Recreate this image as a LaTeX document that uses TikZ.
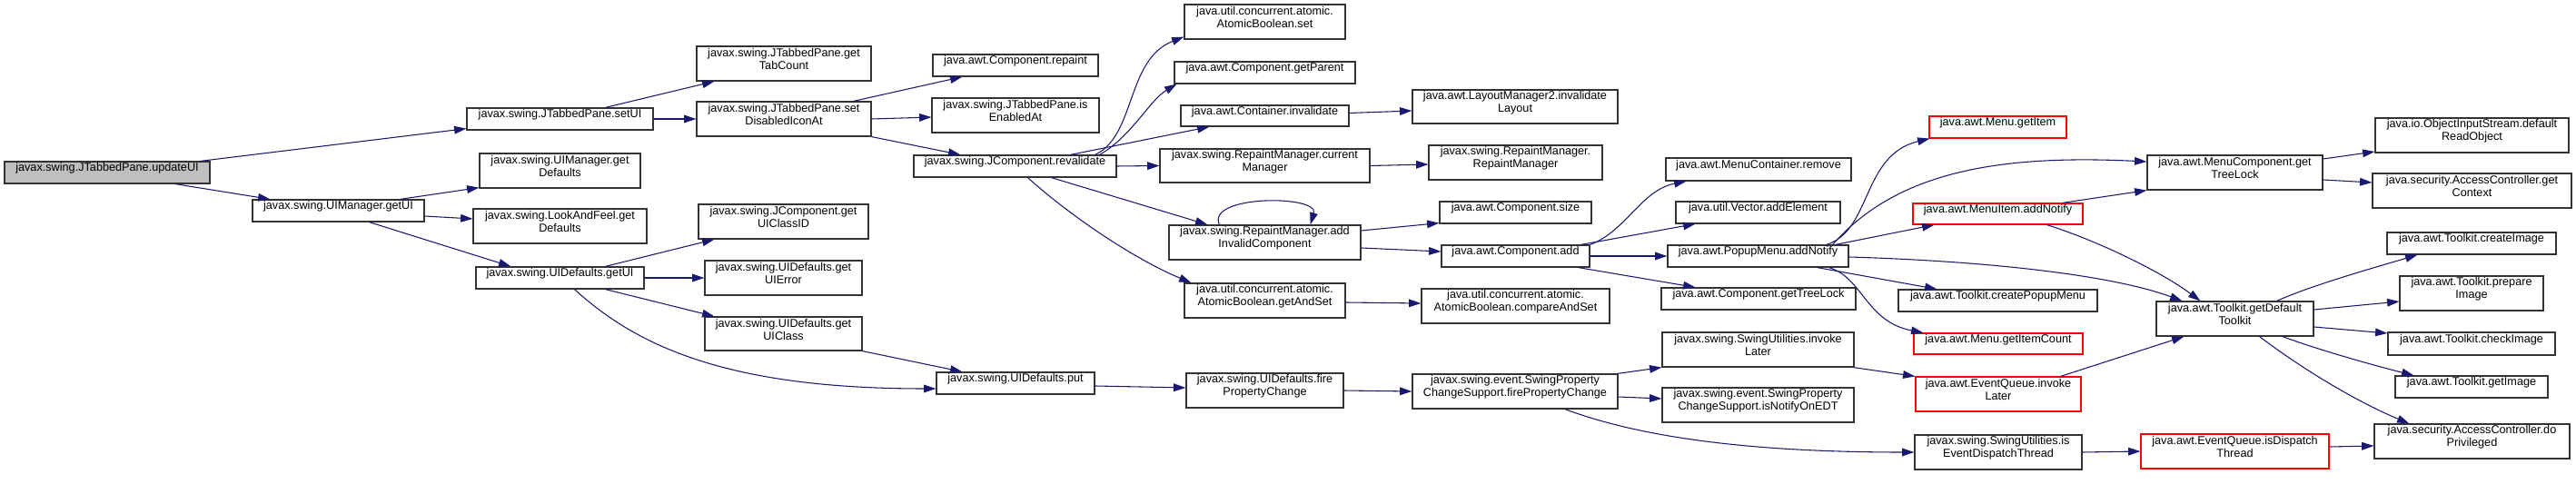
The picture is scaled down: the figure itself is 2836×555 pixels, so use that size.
\documentclass[tikz,border=0pt]{standalone}
\usepackage{fontspec}
\setmainfont{Liberation Sans}
\usetikzlibrary{arrows.meta,fit,calc}
\definecolor{boxline}{HTML}{333333}
\definecolor{rootfill}{HTML}{BFBFBF}
\definecolor{edgecol}{HTML}{191970}
\newcommand\bx[7]{\node[#1, fit={(#3,#4) (#5,#6)}] (#2) {#7};}
\begin{document}
\begin{tikzpicture}[x=0.75pt,y=-0.75pt,
  box/.style={draw=boxline, line width=0.9pt, fill=white, inner sep=0pt, align=center, font=\fontsize{9.5}{10.5}\selectfont},
  lbox/.style={box, align=left},
  rbox/.style={box, draw=red},
  gbox/.style={box, fill=rootfill},
  conn/.style={draw=edgecol, line width=0.8pt, -{Triangle[length=10pt,width=6.5pt]}},
]
\useasboundingbox (0,0) rectangle (2836,555);
% column 0,1
\bx{gbox}{updateUI}{5}{178}{231}{202}{javax.swing.JTabbedPane.updateUI}
\bx{box}{getUI}{278}{220}{467}{244}{javax.swing.UIManager.getUI}
% column 2
\bx{box}{setUI}{514}{119}{719}{143}{javax.swing.JTabbedPane.setUI}
\bx{box}{uimgrdef}{528}{169}{705}{207}{javax.swing.UIManager.get\\Defaults}
\bx{box}{lafdef}{521}{230}{712}{268}{javax.swing.LookAndFeel.get\\Defaults}
\bx{box}{udgetui}{524}{294}{709}{318}{javax.swing.UIDefaults.getUI}
% column 3
\bx{box}{tabcount}{767}{51}{959}{89}{javax.swing.JTabbedPane.get\\TabCount}
\bx{box}{disicon}{767}{112}{959}{150}{javax.swing.JTabbedPane.set\\DisabledIconAt}
\bx{box}{classid}{769}{225}{956}{263}{javax.swing.JComponent.get\\UIClassID}
\bx{box}{uierror}{776}{287}{949}{325}{javax.swing.UIDefaults.get\\UIError}
\bx{box}{uiclass}{776}{349}{949}{386}{javax.swing.UIDefaults.get\\UIClass}
% column 4
\bx{box}{repaint}{1027}{60}{1209}{84}{java.awt.Component.repaint}
\bx{box}{isenabled}{1026}{108}{1210}{146}{javax.swing.JTabbedPane.is\\EnabledAt}
\bx{box}{revalidate}{1006}{171}{1229}{195}{javax.swing.JComponent.revalidate}
\bx{box}{put}{1031}{410}{1205}{434}{javax.swing.UIDefaults.put}
% column 5
\bx{box}{abset}{1304}{5}{1481}{43}{java.util.concurrent.atomic.\\AtomicBoolean.set}
\bx{box}{getparent}{1293}{68}{1492}{92}{java.awt.Component.getParent}
\bx{box}{cinvalidate}{1300}{116}{1485}{139}{java.awt.Container.invalidate}
\bx{box}{curmgr}{1277}{164}{1508}{201}{javax.swing.RepaintManager.current\\Manager}
\bx{box}{addinv}{1287}{248}{1498}{286}{javax.swing.RepaintManager.add\\InvalidComponent}
\bx{box}{getandset}{1304}{312}{1481}{350}{java.util.concurrent.atomic.\\AtomicBoolean.getAndSet}
\bx{box}{udfire}{1306}{411}{1479}{449}{javax.swing.UIDefaults.fire\\PropertyChange}
% column 6
\bx{box}{layout}{1555}{99}{1781}{136}{java.awt.LayoutManager2.invalidate\\Layout}
\bx{box}{rmrm}{1573}{160}{1764}{198}{javax.swing.RepaintManager.\\RepaintManager}
\bx{box}{csize}{1585}{222}{1752}{246}{java.awt.Component.size}
\bx{box}{cadd}{1587}{270}{1750}{294}{java.awt.Component.add}
\bx{lbox}{cas}{1565}{318}{1772}{356}{java.util.concurrent.atomic.\\AtomicBoolean.compareAndSet}
\bx{lbox}{spcsfire}{1555}{412}{1781}{450}{javax.swing.event.SwingProperty\\ChangeSupport.firePropertyChange}
% column 7
\bx{box}{mcremove}{1834}{174}{2038}{199}{java.awt.MenuContainer.remove}
\bx{box}{vecadd}{1845}{222}{2026}{246}{java.util.Vector.addElement}
\bx{box}{popup}{1836}{270}{2035}{294}{java.awt.PopupMenu.addNotify}
\bx{box}{cgettree}{1829}{317}{2043}{341}{java.awt.Component.getTreeLock}
\bx{box}{suinvoke}{1830}{366}{2041}{404}{javax.swing.SwingUtilities.invoke\\Later}
\bx{box}{notifyedt}{1830}{427}{2041}{465}{javax.swing.event.SwingProperty\\ChangeSupport.isNotifyOnEDT}
% column 8
\bx{rbox}{getitem}{2124}{128}{2275}{152}{java.awt.Menu.getItem}
\bx{rbox}{miadd}{2106}{224}{2293}{247}{java.awt.MenuItem.addNotify}
\bx{box}{createpopup}{2090}{319}{2309}{343}{java.awt.Toolkit.createPopupMenu}
\bx{rbox}{getitemcount}{2107}{367}{2293}{390}{java.awt.Menu.getItemCount}
\bx{rbox}{eqinvoke}{2109}{415}{2291}{453}{java.awt.EventQueue.invoke\\Later}
\bx{box}{isedt}{2108}{479}{2292}{517}{javax.swing.SwingUtilities.is\\EventDispatchThread}
% column 9
\bx{box}{mcgettree}{2364}{171}{2557}{209}{java.awt.MenuComponent.get\\TreeLock}
\bx{box}{deftk}{2374}{332}{2547}{370}{java.awt.Toolkit.getDefault\\Toolkit}
\bx{rbox}{isdispatch}{2357}{478}{2564}{516}{java.awt.EventQueue.isDispatch\\Thread}
% column 10
\bx{box}{readobj}{2615}{130}{2828}{168}{java.io.ObjectInputStream.default\\ReadObject}
\bx{box}{getcontext}{2612}{191}{2831}{229}{java.security.AccessController.get\\Context}
\bx{box}{createimg}{2628}{256}{2814}{280}{java.awt.Toolkit.createImage}
\bx{box}{prepimg}{2642}{304}{2800}{342}{java.awt.Toolkit.prepare\\Image}
\bx{box}{checkimg}{2629}{366}{2813}{391}{java.awt.Toolkit.checkImage}
\bx{box}{getimg}{2637}{414}{2805}{438}{java.awt.Toolkit.getImage}
\bx{box}{doprivileged}{2614}{467}{2829}{505}{java.security.AccessController.do\\Privileged}

% edges
\draw[conn] ($(updateUI.north east)+(-11,0)$) -- ($(setUI.south west)+(0,-2)$);
\draw[conn] ($(updateUI.south)+(75,0)$) -- ($(getUI.north west)+(20,0)$);
\draw[conn] ($(setUI.north)+(50,0)$) -- ($(tabcount.south west)+(20,0)$);
\draw[conn] (setUI.east) -- (disicon.west);
\draw[conn] ($(disicon.north east)+(-20,0)$) -- ($(repaint.south west)+(33,0)$);
\draw[conn] (disicon.east) -- ($(isenabled.west)+(0,2)$);
\draw[conn] (disicon.south east) -- ($(revalidate.north west)+(52,0)$);
\draw[conn] ($(getUI.north east)+(-27,0)$) -- ($(uimgrdef.south west)+(0,-1)$);
\draw[conn] ($(getUI.east)+(0,6)$) -- ($(lafdef.west)+(0,-8)$);
\draw[conn] ($(getUI.south)+(34,0)$) -- ($(udgetui.north west)+(39,0)$);
\draw[conn] ($(udgetui.north)+(50,0)$) -- ($(classid.south west)+(18,0)$);
\draw[conn] (udgetui.east) -- (uierror.west);
\draw[conn] ($(udgetui.south)+(50,0)$) -- ($(uiclass.north west)+(11,0)$);
\draw[conn] ($(udgetui.south)+(16,0)$) .. controls +(68,62) and +(-231,0) .. ($(put.west)+(0,6)$);
\draw[conn] (uiclass.south east) -- ($(put.north west)+(29,0)$);
\draw[conn] ($(revalidate.north east)+(-24,0)$) .. controls +(45,-21) and +(-64,25) .. ($(abset.south west)+(0,-3)$);
\draw[conn] ($(revalidate.north east)+(-19,0)$) .. controls +(35,-20) and +(-30,18) .. ($(getparent.south west)+(3,0)$);
\draw[conn] ($(revalidate.north east)+(-51,0)$) -- ($(cinvalidate.south west)+(32,0)$);
\draw[conn] (revalidate.east) -- (curmgr.west);
\draw[conn] ($(revalidate.south)+(40,0)$) -- ($(addinv.north west)+(43,0)$);
\draw[conn] ($(revalidate.south)+(14,0)$) .. controls +(50,45) and +(-60,-25) .. ($(getandset.north west)+(8,0)$);
\draw[conn] ($(cinvalidate.east)+(0,-3)$) -- ($(layout.west)+(0,4.5)$);
\draw[conn] (curmgr.east) -- ($(rmrm.west)+(0,2)$);
\draw[conn] ($(addinv.north west)+(56,0)$) .. controls +(-15,-33) and +(10,-33) .. ($(addinv.north east)+(-56,0)$);
\draw[conn] ($(addinv.east)+(0,-13)$) -- ($(csize.south west)+(0,-1)$);
\draw[conn] ($(addinv.east)+(0,6)$) -- ($(cadd.west)+(0,-5)$);
\draw[conn] ($(getandset.east)+(0,2)$) -- ($(cas.west)+(0,-3)$);
\draw[conn] ($(put.east)+(0,3)$) -- ($(udfire.west)+(0,-3)$);
\draw[conn] (udfire.east) -- (spcsfire.west);
\draw[conn] ($(spcsfire.north east)+(-1,0)$) -- (suinvoke.south west);
\draw[conn] ($(spcsfire.east)+(0,6)$) -- ($(notifyedt.west)+(0,-7)$);
\draw[conn] ($(spcsfire.south)+(55,0)$) .. controls +(67,25) and +(-208,0) .. (isedt.west);
\draw[conn] (cadd.north east) .. controls +(40,-15) and +(-50,10) .. ($(mcremove.south west)+(23,0)$);
\draw[conn] ($(cadd.north east)+(-10,0)$) -- ($(vecadd.south west)+(22,0)$);
\draw[conn] (cadd.east) -- (popup.west);
\draw[conn] ($(cadd.south east)+(-13,0)$) -- ($(cgettree.north west)+(38,0)$);
\draw[conn] ($(popup.north east)+(-25,0)$) .. controls +(50,-15) and +(-75,18) .. ($(getitem.south west)+(1,0)$);
\draw[conn] ($(popup.north east)+(-18,0)$) .. controls +(70,-80) and +(-164,-8) .. ($(mcgettree.west)+(0,-12)$);
\draw[conn] ($(popup.north east)+(-15,0)$) -- ($(miadd.south west)+(24,0)$);
\draw[conn] ($(popup.east)+(0,1)$) .. controls +(165,5) and +(-73,-27) .. ($(deftk.north west)+(29,0)$);
\draw[conn] ($(popup.south east)+(-35,0)$) -- ($(createpopup.north west)+(43,0)$);
\draw[conn] ($(popup.south east)+(-22,0)$) .. controls +(37,11) and +(-63,-12) .. ($(getitemcount.north west)+(11,0)$);
\draw[conn] ($(miadd.north east)+(-23,0)$) -- (mcgettree.south west);
\draw[conn] ($(miadd.south east)+(-40,0)$) .. controls +(57,18) and +(-43,-32) .. ($(deftk.north west)+(49,0)$);
\draw[conn] ($(suinvoke.south east)+(-1,0)$) -- (eqinvoke.north west);
\draw[conn] ($(eqinvoke.north east)+(-23,0)$) -- ($(deftk.south west)+(31,0)$);
\draw[conn] (isedt.east) -- (isdispatch.west);
\draw[conn] ($(isdispatch.east)+(0,-5)$) -- ($(doprivileged.west)+(0,5)$);
\draw[conn] ($(mcgettree.east)+(0,-15)$) -- ($(readobj.west)+(0,18)$);
\draw[conn] ($(mcgettree.east)+(0,8)$) -- ($(getcontext.west)+(0,-9)$);
\draw[conn] ($(deftk.north)+(46,0)$) .. controls +(40,-18) and +(-40,12) .. ($(createimg.south west)+(34,0)$);
\draw[conn] ($(deftk.east)+(0,-10)$) -- ($(prepimg.west)+(0,9)$);
\draw[conn] ($(deftk.east)+(0,9)$) -- ($(checkimg.west)+(0,-11.5)$);
\draw[conn] ($(deftk.south)+(52.5,0)$) .. controls +(40,15) and +(-40,-10) .. ($(getimg.north west)+(21,0)$);
\draw[conn] ($(deftk.south)+(27,0)$) .. controls +(53,40) and +(-53,-22) .. ($(doprivileged.north west)+(39,0)$);
\end{tikzpicture}
\end{document}
